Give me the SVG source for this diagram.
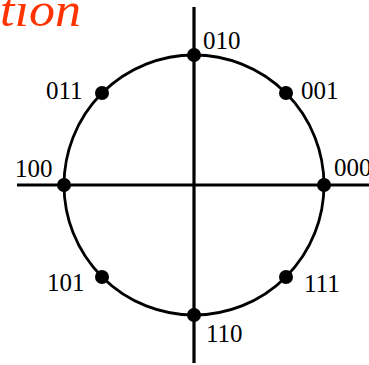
<svg xmlns="http://www.w3.org/2000/svg" width="369" height="365" viewBox="0 0 369 365">
<defs>
<style>
text.lbl{font-family:'Liberation Serif',serif;font-size:25px;fill:#000}
text.title{font-family:'Liberation Serif',serif;font-style:italic;font-size:48px;fill:#ff3300}
.axis{stroke:#000;stroke-width:3.2;fill:none}
.circ{stroke:#000;stroke-width:2.8;fill:none}
.dot{fill:#000}
</style>
</defs>
<rect width="369" height="365" fill="#fff"/>
<text class="title" x="0" y="26" textLength="81" lengthAdjust="spacingAndGlyphs">tion</text>
<g id="connectors">
<circle class="circ" cx="194" cy="185" r="130"/>
<line class="axis" x1="194" y1="7" x2="194" y2="363"/>
<line class="axis" x1="17" y1="185" x2="372" y2="185"/>
</g>
<g id="n000"><circle class="dot" cx="324" cy="185" r="7"/><text class="lbl" x="334" y="176">000</text></g>
<g id="n001"><circle class="dot" cx="286" cy="93" r="7"/><text class="lbl" x="301" y="99">001</text></g>
<g id="n010"><circle class="dot" cx="194" cy="55" r="7"/><text class="lbl" x="203" y="49">010</text></g>
<g id="n011"><circle class="dot" cx="102" cy="93" r="7"/><text class="lbl" x="46" y="99">011</text></g>
<g id="n100"><circle class="dot" cx="64" cy="185" r="7"/><text class="lbl" x="15" y="177">100</text></g>
<g id="n101"><circle class="dot" cx="102" cy="277" r="7"/><text class="lbl" x="47" y="291">101</text></g>
<g id="n110"><circle class="dot" cx="194" cy="315" r="7"/><text class="lbl" x="206" y="342">110</text></g>
<g id="n111"><circle class="dot" cx="286" cy="277" r="7"/><text class="lbl" x="304" y="292">111</text></g>
</svg>
